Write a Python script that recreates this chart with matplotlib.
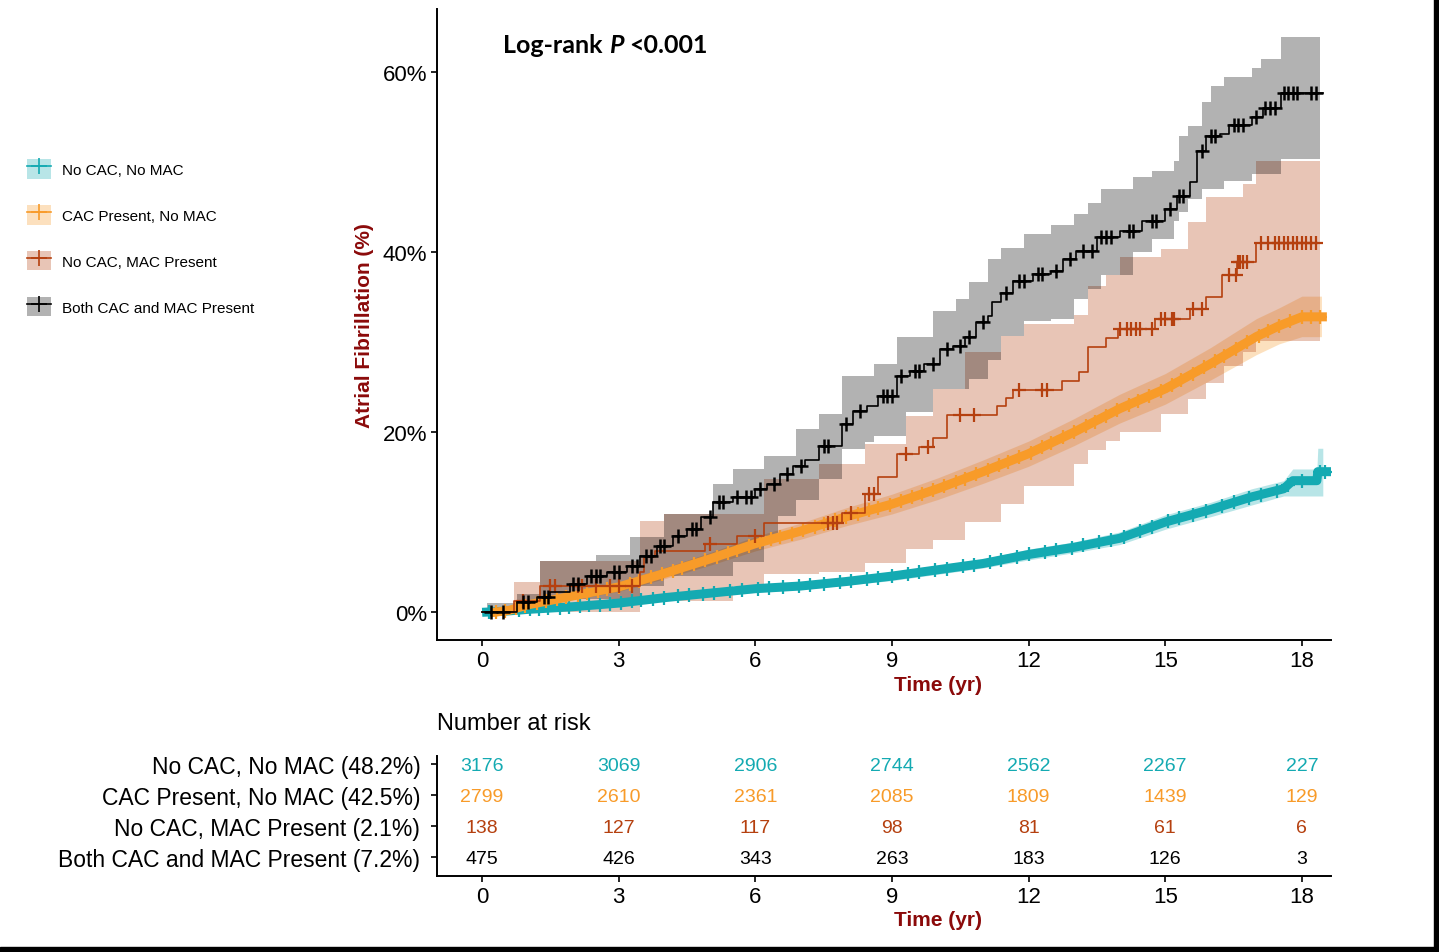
import numpy as np
import matplotlib
matplotlib.use("Agg")
import matplotlib.pyplot as plt
from matplotlib.patches import Patch, Rectangle
from matplotlib.lines import Line2D
from matplotlib import transforms

plt.rcParams['font.family'] = ['Liberation Sans', 'DejaVu Sans']

W, H = 1439, 953

# ---------------------------  colours  --------------------------- #
C_TEAL = '#14AAB2'
C_ORANGE = '#F89B29'
C_BROWN = '#B5400F'
C_BLACK = '#000000'
C_LABEL = '#8B0A0A'
colors = [C_TEAL, C_ORANGE, C_BROWN, C_BLACK]

# ----------------------------  data  ----------------------------- #
groups = ["No CAC, No MAC", "CAC Present, No MAC",
          "No CAC, MAC Present", "Both CAC and MAC Present"]
group_share = ["48.2%", "42.5%", "2.1%", "7.2%"]

# No CAC, No MAC (cumulative incidence, %)
teal_t = [0.1, 0.5, 1.0, 2.0, 3.0, 4.0, 5.0, 6.0, 7.0, 8.0, 9.0, 10.0, 11.0,
          12.0, 13.0, 14.0, 15.0, 16.0, 16.9, 17.6, 17.8, 18.33, 18.35]
teal_v = [0, 0.1, 0.3, 0.6, 1.0, 1.6, 2.1, 2.6, 2.9, 3.4, 4.0, 4.7, 5.4,
          6.4, 7.2, 8.2, 10.0, 11.4, 12.8, 13.7, 14.6, 14.6, 15.6]
teal_lo = [0, 0.0, 0.1, 0.4, 0.7, 1.3, 1.8, 2.2, 2.5, 3.0, 3.5, 4.2, 4.9,
           5.8, 6.6, 7.5, 9.2, 10.6, 11.9, 12.9, 12.9, 12.9, 12.9]
teal_hi = [0.1, 0.3, 0.5, 0.8, 1.3, 1.9, 2.4, 3.0, 3.3, 3.8, 4.5, 5.2, 5.9,
           7.0, 7.8, 8.9, 10.8, 12.2, 13.7, 14.6, 15.9, 15.9, 18.2]
teal_end = 18.57
teal_band_end = 18.46
teal_cens = [0.15, 0.8, 1.05, 1.25, 1.45, 1.7, 1.9, 2.15, 2.35, 2.6, 2.8, 3.05,
             3.3, 3.5, 3.75, 4.0, 4.3, 4.55, 4.85, 5.1, 5.45, 5.7, 6.05, 6.3,
             6.6, 6.95, 7.2, 7.5, 7.85, 8.1, 8.45, 8.7, 9.0, 9.35, 9.6, 9.95,
             10.2, 10.55, 10.8, 11.15, 11.4, 11.75, 12.0, 12.35, 12.6, 12.95,
             13.2, 13.55, 13.8, 14.1, 14.45, 14.7, 15.05, 15.3, 15.6, 15.9,
             16.25, 16.5, 16.85, 17.1, 17.45, 17.7, 18.0, 18.4, 18.5]

# CAC Present, No MAC
orange_t = [0.3, 0.6, 1.0, 2.0, 3.0, 4.0, 5.0, 6.0, 7.0, 8.0, 9.0, 10.0, 11.0,
            12.0, 13.0, 14.0, 15.0, 16.0, 17.0, 17.5, 18.0]
orange_v = [0, 0.2, 0.8, 1.8, 2.8, 4.3, 5.9, 7.6, 9.0, 10.6, 12.0, 13.7, 15.6,
            17.6, 20.0, 22.6, 24.8, 27.6, 30.6, 31.8, 32.8]
orange_lo = [0, 0, 0.5, 1.4, 2.3, 3.7, 5.2, 6.8, 8.1, 9.6, 10.9, 12.5, 14.3,
             16.2, 18.5, 21.0, 23.1, 25.8, 28.6, 29.8, 30.6]
orange_hi = [0, 0.4, 1.1, 2.2, 3.3, 4.9, 6.6, 8.4, 9.9, 11.6, 13.1, 14.9, 16.9,
             19.0, 21.5, 24.2, 26.5, 29.4, 32.6, 33.8, 35.1]
orange_end = 18.45
orange_band_end = 18.43
orange_cens = [0.3, 0.5, 0.75, 0.95, 1.2, 1.4, 1.65, 1.85, 2.1, 2.3, 2.55, 2.75,
               3.0, 3.25, 3.45, 3.7, 3.95, 4.2, 4.4, 4.65, 4.9, 5.15, 5.4, 5.6,
               5.85, 6.1, 6.35, 6.55, 6.8, 7.05, 7.3, 7.5, 7.75, 8.0, 8.25,
               8.5, 8.7, 8.95, 9.2, 9.45, 9.65, 9.9, 10.15, 10.4, 10.6, 10.85,
               11.1, 11.35, 11.55, 11.8, 12.05, 12.3, 12.5, 12.75, 13.0, 13.25,
               13.45, 13.7, 13.95, 14.2, 14.4, 14.65, 14.9, 15.15, 15.35, 15.6,
               15.85, 16.1, 16.3, 16.55, 16.8, 17.05, 17.25, 17.5, 17.75, 18.0,
               18.2, 18.4]

# No CAC, MAC Present
brown_t = [0.0, 0.7, 1.27, 3.47, 3.55, 3.8, 4.9, 5.6, 6.2, 7.9, 8.4, 8.7, 9.1,
           9.6, 9.9, 10.2, 11.3, 11.5, 11.65, 12.73, 13.1, 13.3, 13.7, 13.96,
           14.77, 15.54, 15.9, 16.25, 16.57, 17.0]
brown_v = [0.0, 1.2, 2.9, 4.5, 6.1, 6.8, 7.6, 8.4, 9.9, 11.0, 13.1, 15.0, 17.6,
           18.3, 19.3, 21.9, 22.9, 23.8, 24.7, 25.7, 26.7, 29.4, 30.4, 31.4,
           32.6, 33.7, 35.0, 37.4, 38.9, 41.0]
brown_end = 18.42
brown_band_t = [0.7, 1.27, 3.47, 4.0, 5.5, 6.2, 7.4, 8.4, 9.3, 9.9, 10.6, 11.4,
                11.9, 13.0, 13.3, 13.7, 14.0, 14.9, 15.5, 15.9, 16.3, 16.7,
                17.0, 18.4]
brown_hi = [3.3, 5.7, 10.1, 10.9, 10.9, 14.8, 16.5, 18.7, 21.8, 24.8, 28.9,
            30.7, 32.0, 33.0, 36.2, 37.5, 39.4, 40.3, 43.3, 46.1, 46.1, 47.6,
            50.1, 50.1]
brown_lo = [0, 0, 1.2, 1.2, 2.9, 4.2, 4.5, 5.5, 7.0, 8.0, 10.0, 12.0, 14.0,
            16.5, 18.0, 19.0, 20.0, 22.0, 23.7, 25.5, 27.3, 28.9, 30.1, 30.1]
brown_cens = [0.9, 1.5, 1.6, 2.1, 2.2, 2.5, 2.8, 3.0, 3.3, 5.0, 6.0, 7.6, 7.7,
              7.8, 8.1, 8.5, 8.6, 9.3, 9.8, 10.5, 10.8, 11.8, 12.3, 12.4,
              14.0, 14.15, 14.25, 14.35, 14.45, 14.7, 14.9, 15.0, 15.15, 15.2,
              15.6, 15.8, 16.4, 16.55, 16.6, 16.65, 16.7, 16.8, 17.1, 17.25,
              17.4, 17.5, 17.6, 17.7, 17.8, 17.9, 18.0, 18.1, 18.2, 18.3]

# Both CAC and MAC Present
black_t = [0.0, 0.77, 1.2, 1.5, 1.93, 2.3, 2.75, 3.18, 3.47, 3.84, 4.2, 4.5,
           4.8, 5.07, 5.5, 6.0, 6.25, 6.55, 6.83, 7.1, 7.4, 7.9, 8.15, 8.45,
           8.7, 9.1, 9.4, 9.7, 10.05, 10.35, 10.6, 10.85, 11.1, 11.2, 11.4,
           11.65, 12.1, 12.5, 12.75, 13.05, 13.5, 14.0, 14.5, 15.0, 15.25,
           15.55, 15.7, 15.9, 16.2, 16.4, 16.9, 17.15, 17.55]
black_v = [0.0, 1.1, 1.7, 2.2, 3.1, 4.0, 4.4, 5.1, 6.2, 7.3, 8.4, 9.2, 10.6,
           12.2, 12.8, 13.7, 14.2, 15.3, 16.2, 16.9, 18.4, 20.9, 22.3, 22.9,
           24.0, 26.2, 26.8, 27.6, 29.2, 29.6, 30.6, 32.2, 32.9, 34.4, 35.5,
           36.8, 37.6, 37.9, 39.2, 40.1, 41.7, 42.3, 43.4, 44.8, 46.2, 47.8,
           51.2, 52.9, 53.1, 54.1, 55.0, 56.0, 57.7]
black_end = 18.46
grey_t = [0.1, 0.77, 1.27, 2.5, 3.25, 3.47, 4.0, 5.07, 5.5, 6.2, 6.5, 6.9, 7.4,
          7.9, 8.4, 8.6, 9.1, 9.3, 9.9, 10.4, 10.7, 11.1, 11.4, 11.9, 12.5,
          13.0, 13.3, 13.6, 14.3, 14.7, 15.2, 15.3, 15.5, 15.8, 16.0, 16.3,
          16.9, 17.1, 17.55, 18.4]
grey_hi = [1.0, 2.0, 5.7, 6.3, 8.3, 8.3, 10.9, 14.2, 15.9, 17.3, 17.3, 20.3,
           22.0, 26.2, 26.2, 27.6, 30.6, 30.6, 33.4, 34.8, 36.7, 39.2, 40.5,
           42.0, 43.0, 44.2, 45.5, 47.0, 48.3, 49.0, 50.1, 52.9, 54.0, 56.7,
           58.4, 59.5, 60.4, 61.5, 63.9, 63.9]
grey_lo = [0, 0.5, 1.4, 1.4, 1.4, 2.9, 4.0, 4.0, 5.6, 8.4, 10.7, 12.5, 14.8,
           18.1, 18.9, 19.6, 19.6, 22.2, 24.8, 24.8, 25.9, 28.0, 30.7, 32.3,
           32.6, 34.8, 35.9, 37.5, 40.0, 41.4, 43.5, 44.5, 45.9, 47.0, 47.0,
           47.9, 48.7, 48.7, 50.3, 50.3]
black_cens = [0.2, 0.45, 0.9, 1.0, 1.35, 1.45, 2.0, 2.1, 2.4, 2.5, 2.6, 2.9,
              3.0, 3.3, 3.4, 3.6, 3.7, 3.9, 4.0, 4.3, 4.6, 4.7, 5.0, 5.2, 5.3,
              5.6, 5.8, 5.9, 6.1, 6.4, 6.7, 7.0, 7.5, 7.6, 8.0, 8.3, 8.8, 8.9,
              9.0, 9.2, 9.5, 9.6, 9.9, 10.2, 10.5, 10.7, 11.0, 11.5, 11.8,
              11.9, 12.2, 12.3, 12.6, 12.9, 13.2, 13.4, 13.6, 13.7, 13.8, 14.2,
              14.3, 14.7, 14.8, 15.1, 15.3, 15.4, 15.8, 16.0, 16.1, 16.5, 16.6,
              16.7, 17.0, 17.2, 17.3, 17.4, 17.6, 17.7, 17.8, 17.9, 18.2, 18.3]

# number at risk
risk_times = [0, 3, 6, 9, 12, 15, 18]
risk_teal = [3176, 3069, 2906, 2744, 2562, 2267, 227]
risk_orange = [2799, 2610, 2361, 2085, 1809, 1439, 129]
risk_brown = [138, 127, 117, 98, 81, 61, 6]
risk_black = [475, 426, 343, 263, 183, 126, 3]
risk = [risk_teal, risk_orange, risk_brown, risk_black]


def step_at(t, v, x):
    idx = np.searchsorted(t, x, side='right') - 1
    return np.asarray(v)[np.clip(idx, 0, len(v) - 1)]


# ---------------------------  figure  ---------------------------- #
fig = plt.figure(figsize=(W / 100, H / 100), dpi=100)
ax = fig.add_axes([437 / W, 1 - 641 / H, (1331 - 437) / W, (641 - 10) / H])
rax = fig.add_axes([437 / W, 1 - 877 / H, (1331 - 437) / W, (877 - 757) / H])

# bands
ax.fill_between(teal_t + [teal_band_end], teal_lo + [teal_lo[-1]],
                teal_hi + [teal_hi[-1]], color=C_TEAL, alpha=0.3, lw=0, zorder=1)
ax.fill_between(orange_t + [orange_band_end], orange_lo + [orange_lo[-1]],
                orange_hi + [orange_hi[-1]], color=C_ORANGE, alpha=0.3, lw=0, zorder=2)
ax.fill_between(brown_band_t, brown_lo, brown_hi, step='post',
                color=C_BROWN, alpha=0.3, lw=0, zorder=3)
ax.fill_between(grey_t, grey_lo, grey_hi, step='post',
                color=C_BLACK, alpha=0.3, lw=0, zorder=4)

# curves
ax.plot(teal_t + [teal_end], teal_v + [teal_v[-1]], color=C_TEAL, lw=6.5, zorder=5)
ax.plot(teal_cens, np.interp(teal_cens, teal_t, teal_v), ls='none', marker='+',
        ms=10, mew=1.6, color=C_TEAL, zorder=5)
ax.plot(orange_t + [orange_end], orange_v + [orange_v[-1]], color=C_ORANGE, lw=6.5, zorder=6)
ax.plot(orange_cens, np.interp(orange_cens, orange_t, orange_v), ls='none',
        marker='+', ms=10, mew=1.6, color=C_ORANGE, zorder=6)
ax.step(brown_t + [brown_end], brown_v + [brown_v[-1]], where='post',
        color=C_BROWN, lw=1.2, zorder=7)
ax.plot(brown_cens, step_at(brown_t, brown_v, brown_cens), ls='none',
        marker='+', ms=10, mew=1.6, color=C_BROWN, zorder=7)
ax.step(black_t + [black_end], black_v + [black_v[-1]], where='post',
        color=C_BLACK, lw=1.2, zorder=8)
ax.plot(black_cens, step_at(black_t, black_v, black_cens), ls='none',
        marker='+', ms=10, mew=1.8, color=C_BLACK, zorder=8)

# axes styling
for a in (ax, rax):
    a.spines['top'].set_visible(False)
    a.spines['right'].set_visible(False)
    a.spines['left'].set_linewidth(1.4)
    a.spines['bottom'].set_linewidth(1.4)
    a.set_xlim(-0.99, 18.64)
    a.set_xticks(risk_times)

ax.set_ylim(-3.1, 67)
ax.set_yticks([0, 20, 40, 60])
ax.set_yticklabels(['0%', '20%', '40%', '60%'])
ax.tick_params(labelsize=16, length=4, width=1.2, pad=3)
ax.tick_params(axis='x', pad=3.5)
ax.set_ylabel("Atrial Fibrillation (%)", fontsize=15, fontweight='bold',
              color=C_LABEL, labelpad=6)
ax.set_xlabel("Time (yr)", fontsize=15, fontweight='bold', color=C_LABEL)
ax.xaxis.set_label_coords((938 - 437) / 894, -0.056)

# log-rank annotation (bold, italic P)
renderer = fig.canvas.get_renderer()
lr_kw = dict(fontsize=18, fontweight='bold', family=['Lato', 'DejaVu Sans'],
             va='baseline', zorder=10)
t1 = ax.text(0.46, 62.2, "Log-rank", **lr_kw)
w1 = t1.get_window_extent(renderer).width
tr2 = transforms.offset_copy(ax.transData, fig=fig, x=w1 + 6, y=0, units='dots')
t2 = ax.text(0.46, 62.2, "P", style='italic', transform=tr2, **lr_kw)
w2 = t2.get_window_extent(renderer).width
tr3 = transforms.offset_copy(ax.transData, fig=fig, x=w1 + w2 + 12, y=0, units='dots')
ax.text(0.46, 62.2, "<0.001", transform=tr3, **lr_kw)

# legend
handles = [(Patch(facecolor=c, alpha=0.3, edgecolor='none'),
            Line2D([], [], color=c, marker='+', ms=11, mew=1.2, lw=1.2))
           for c in colors]
fig.legend(handles, groups, loc='upper left',
           bbox_to_anchor=(27 / W, 1 - 160 / H), frameon=False, fontsize=11,
           handlelength=1.6, handleheight=1.6, handletextpad=0.72,
           labelspacing=1.72, borderpad=0, borderaxespad=0)

# number at risk table
rax.set_ylim(3.61, -0.26)
rax.set_yticks(range(4))
rax.set_yticklabels([f"{g} ({s})" for g, s in zip(groups, group_share)])
rax.tick_params(axis='y', labelsize=16.5, length=4, width=1.2, pad=8)
rax.tick_params(axis='x', labelsize=16, length=4, width=1.2, pad=3)
for i, row in enumerate(risk):
    for x, n in zip(risk_times, row):
        rax.text(x, i + 0.05, str(n), ha='center', va='center', color=colors[i], fontsize=14)
rax.set_xlabel("Time (yr)", fontsize=15, fontweight='bold', color=C_LABEL)
rax.xaxis.set_label_coords((938 - 437) / 894, -0.28)
fig.text(437 / W, 1 - 724 / H, "Number at risk", fontsize=17, va='center')

# black frame on right and bottom edges
fig.patches.append(Rectangle((1434 / W, 0), 5 / W, 1, transform=fig.transFigure,
                             color='black', zorder=20))
fig.patches.append(Rectangle((0, 0), 1, 5 / H, transform=fig.transFigure,
                             color='black', zorder=20))

fig.savefig("out.png", dpi=100)
